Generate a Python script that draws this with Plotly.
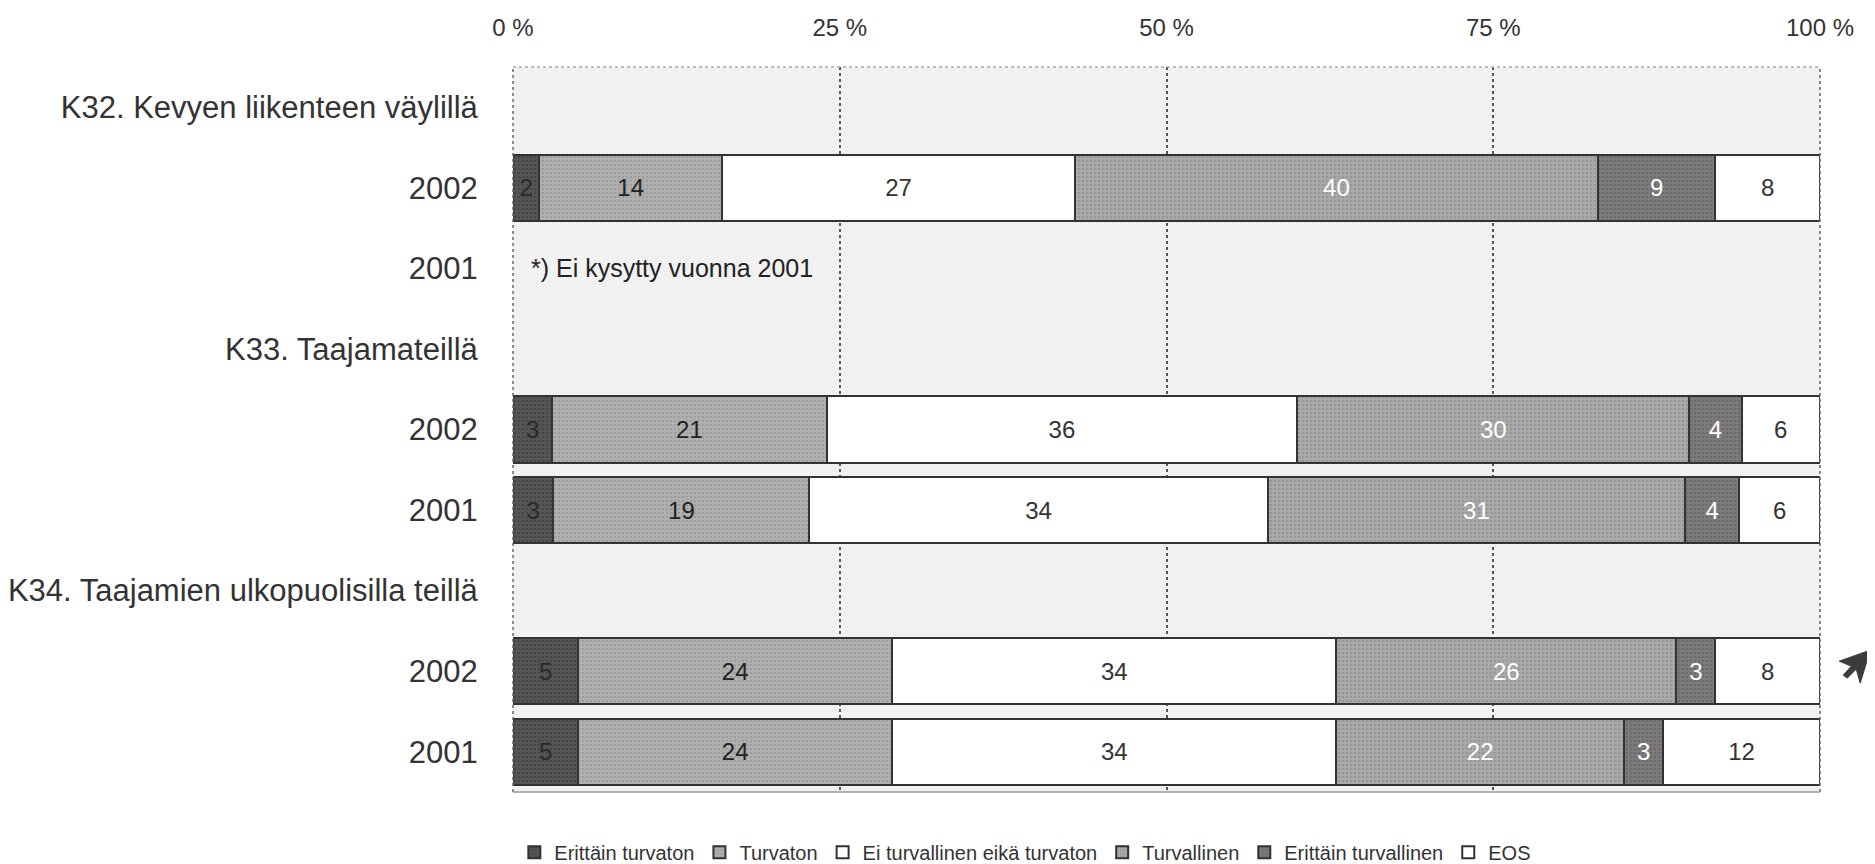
import plotly.graph_objects as go

# ---- data ----
row_labels = ["K32. Kevyen liikenteen väylillä", "2002", "2001",
              "K33. Taajamateillä", "2002", "2001",
              "K34. Taajamien ulkopuolisilla teillä", "2002", "2001"]
bar_rows = [1, 4, 5, 7, 8]          # index of the row each bar belongs to
series_names = ["Erittäin turvaton", "Turvaton", "Ei turvallinen eikä turvaton",
                "Turvallinen", "Erittäin turvallinen", "EOS"]
erittain_turvaton = [2, 3, 3, 5, 5]
turvaton = [14, 21, 19, 24, 24]
ei_kumpikaan = [27, 36, 34, 34, 34]
turvallinen = [40, 30, 31, 26, 22]
erittain_turvallinen = [9, 4, 4, 3, 3]
eos = [8, 6, 6, 8, 12]
x_ticks = [0, 25, 50, 75, 100]
x_tick_labels = ["0 %", "25 %", "50 %", "75 %", "100 %"]
note_text = "*) Ei kysytty vuonna 2001"

series_values = [erittain_turvaton, turvaton, ei_kumpikaan, turvallinen,
                 erittain_turvallinen, eos]
fill_colors = ["#565656", "#b0b0b0", "#ffffff", "#a9a9a9", "#7c7c7c", "#ffffff"]
dot_colors = ["#363636", "#8c8c8c", None, "#868686", "#5a5a5a", None]
text_colors = ["#2a2a2a", "#222222", "#333333", "#ffffff", "#ffffff", "#333333"]

FONT = "Liberation Sans, Arial, sans-serif"

fig = go.Figure()
for name, vals, fc, dc, tc in zip(series_names, series_values, fill_colors,
                                  dot_colors, text_colors):
    marker = dict(color=fc, line=dict(color="#333333", width=2))
    if dc:
        marker["pattern"] = dict(shape=".", fillmode="overlay", fgcolor=dc,
                                 size=4, solidity=0.35)
    fig.add_trace(go.Bar(
        name=name, x=vals, y=bar_rows, orientation="h",
        text=[str(v) for v in vals], texttemplate="%{text}",
        textposition="inside", insidetextanchor="middle",
        textfont=dict(family=FONT, size=24, color=tc),
        constraintext="none",
        marker=marker,
        width=0.82,
    ))

fig.add_annotation(x=1.2, y=2, xref="x", yref="y", text=note_text,
                   showarrow=False, xanchor="left", yanchor="middle",
                   font=dict(family=FONT, size=25, color="#222222"))

# scanner cursor mark at right (decorative arrowhead)
fig.add_shape(type="path", xref="paper", yref="paper",
              xsizemode="pixel", ysizemode="pixel", xanchor=1.0262, yanchor=0.1736,
              path="M 16 16 L -15 5 L -3 0 L -11 -9 L -7 -12 L 2 -3 L 6 -17 Z",
              fillcolor="#3c3c3c", line=dict(color="#3c3c3c", width=1))

# frame: dotted left/right/top edges and light bottom line
for xv in (0, 1):
    fig.add_shape(type="line", xref="paper", yref="paper", x0=xv, x1=xv, y0=0, y1=1,
                  line=dict(color="#666666", width=1.5, dash="dot"))
fig.add_shape(type="line", xref="paper", yref="paper", x0=0, x1=1, y0=1, y1=1,
              line=dict(color="#aaaaaa", width=1.5, dash="dot"))
fig.add_shape(type="line", xref="paper", yref="paper", x0=0, x1=1, y0=0, y1=0,
              line=dict(color="#9a9a9a", width=1.5))

fig.update_layout(
    barmode="stack", barnorm="percent",
    width=1867, height=856,
    margin=dict(l=505, r=55, t=59, b=72, autoexpand=False),
    paper_bgcolor="#ffffff", plot_bgcolor="#f1f1f1",
    font=dict(family=FONT, color="#333333"),
    showlegend=True,
    legend=dict(orientation="h", x=0.392, xanchor="center", y=-0.083, yanchor="middle",
                font=dict(family=FONT, size=20, color="#333333"),
                traceorder="normal", itemwidth=30, bgcolor="rgba(0,0,0,0)"),
    xaxis=dict(side="top", range=[0, 100], tickvals=x_ticks, ticktext=x_tick_labels,
               showgrid=True, gridcolor="#555555", griddash="dot", gridwidth=1.5,
               zeroline=False, showline=False, automargin=False,
               ticks="outside", ticklen=20, tickcolor="rgba(0,0,0,0)",
               tickfont=dict(family=FONT, size=24, color="#333333"), fixedrange=True),
    yaxis=dict(range=[8.5, -0.5], tickvals=list(range(len(row_labels))), ticktext=row_labels,
               showgrid=False, zeroline=False, showline=False, automargin=False,
               ticks="outside", ticklen=28, tickcolor="rgba(0,0,0,0)",
               tickfont=dict(family=FONT, size=31, color="#333333"), fixedrange=True),
    bargap=0.18,
)

fig.write_html("out.html")
